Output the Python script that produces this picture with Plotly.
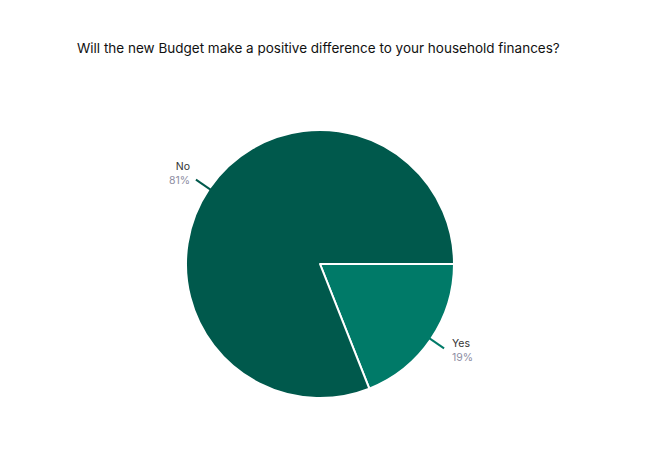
import math
import plotly.graph_objects as go

# Dados da pesquisa
titulo = "Will the new Budget make a positive difference to your household finances?"
respostas = ["Yes", "No"]
percentuais = [19, 81]
cores = ["#007A68", "#00594C"]

W, H = 668, 457
OFF = 8  # margem padrão do <body> da página
# Geometria da pizza (pixels, na janela)
cx_px, cy_px, r_px = 320 - OFF, 264 - OFF, 134

dominio_x = [(cx_px - r_px) / W, (cx_px + r_px) / W]
dominio_y = [(H - cy_px - r_px) / H, (H - cy_px + r_px) / H]

fig = go.Figure()

fig.add_trace(go.Pie(
    labels=respostas,
    values=percentuais,
    sort=False,
    direction="clockwise",
    rotation=90,
    marker=dict(colors=cores, line=dict(color="#FFFFFF", width=2)),
    textinfo="none",
    hoverinfo="label+percent",
    domain=dict(x=dominio_x, y=dominio_y),
    showlegend=False,
))

# Rótulos externos com linhas de chamada, calculados a partir dos valores
total = sum(percentuais)
inicio = 0.0
anotacoes = []
linhas = []
for resp, val, cor in zip(respostas, percentuais, cores):
    meio = inicio + val / total * 360 / 2
    inicio += val / total * 360
    ang = math.radians(meio)  # horário a partir das 3 horas (tela)
    cosa, sina = math.cos(ang), math.sin(ang)
    x0 = cx_px + (r_px - 2) * cosa
    y0 = cy_px + (r_px - 2) * sina
    x1 = cx_px + (r_px + 16) * cosa
    y1 = cy_px + (r_px + 16) * sina
    linhas.append(dict(
        type="line", xref="paper", yref="paper",
        x0=x0 / W, y0=1 - y0 / H, x1=x1 / W, y1=1 - y1 / H,
        line=dict(color=cor, width=2),
    ))
    direita = cosa >= 0
    anotacoes.append(dict(
        xref="paper", yref="paper",
        x=(x1 + (6 if direita else -4)) / W,
        y=1 - (y1 + (2 if direita else -6)) / H,
        xanchor="left" if direita else "right",
        yanchor="middle",
        align="left" if direita else "right",
        showarrow=False,
        text=f"<span style='color:#333333'>{resp}</span><br>"
             f"<span style='color:#8E8EA3'>{val}%</span>",
        font=dict(family="Inter, sans-serif", size=10.5),
    ))

fig.update_layout(
    width=W,
    height=H,
    margin=dict(l=0, r=0, t=0, b=0),
    paper_bgcolor="#FFFFFF",
    plot_bgcolor="#FFFFFF",
    title=dict(
        text=titulo,
        x=(77 - OFF) / W,
        xanchor="left",
        y=1 - (48 - OFF) / H,
        yanchor="middle",
        font=dict(family="Inter, sans-serif", size=13.5, color="#111111"),
    ),
    shapes=linhas,
    annotations=anotacoes,
)

fig.write_html("out.html")
